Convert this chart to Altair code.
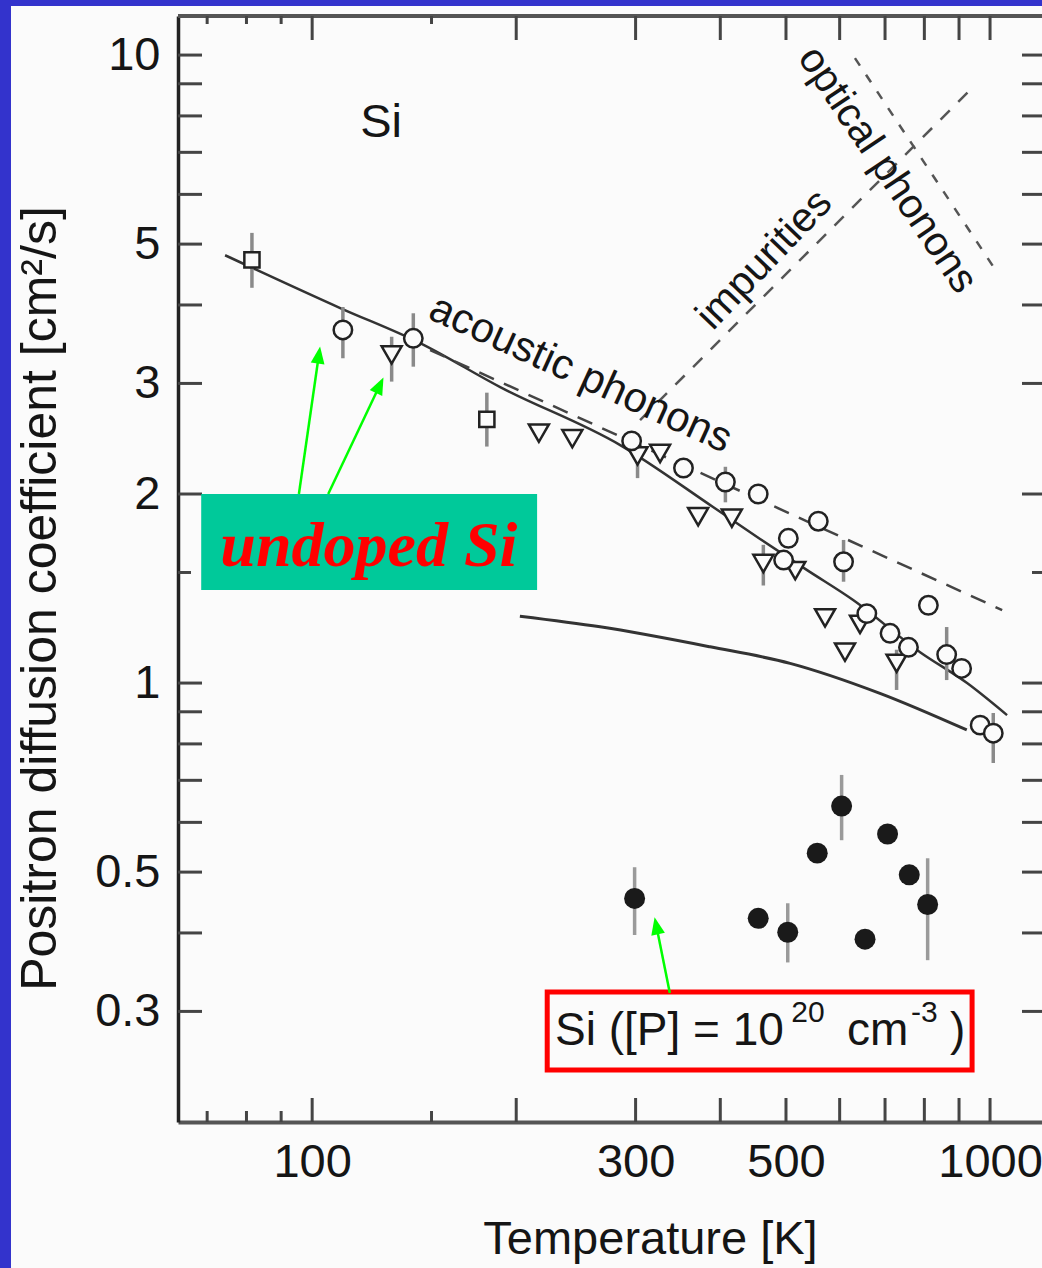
import altair as alt
import pandas as pd

FONT = "Liberation Sans"
INK = "#151515"
BG = "#fbfbfb"

# ---------------- axes ----------------
x_domain = [63.4, 1193.0]
y_domain = [0.2, 11.54]
x_labels = [100, 300, 500, 1000]
y_labels = [0.3, 0.5, 1, 2, 3, 5, 10]
x_ticks_major = [100, 200, 300, 400, 500, 600, 700, 800, 900, 1000]
x_ticks_minor = [70, 80, 90, 150]
y_ticks_major = [0.3, 0.4, 0.5, 0.6, 0.7, 0.8, 0.9, 1, 2, 3, 4, 5, 6, 7, 8, 9, 10]
y_ticks_minor = [1.5]

# ---------------- undoped Si data ----------------
sq_T = [81.5, 181]
sq_D = [4.72, 2.63]

circ_T = [111, 141, 296, 353, 407, 455, 504, 558, 496, 608, 658, 811, 712, 758, 863, 908, 967, 1011]
circ_D = [3.65, 3.54, 2.43, 2.20, 2.09, 2.00, 1.70, 1.81, 1.57, 1.56, 1.29, 1.33, 1.20, 1.14, 1.11, 1.055, 0.857, 0.832]

tri_T = [131, 216, 242, 302, 326, 371, 416, 463, 516, 571, 643, 611, 728]
tri_D = [3.33, 2.50, 2.45, 2.30, 2.32, 1.84, 1.83, 1.55, 1.51, 1.27, 1.24, 1.12, 1.075]

err_T = [81.5, 181, 111, 141, 131, 302, 407, 608, 463, 863, 1011, 728]
err_lo = [4.26, 2.38, 3.29, 3.19, 3.02, 2.12, 1.94, 1.45, 1.43, 1.011, 0.746, 0.975]
err_hi = [5.21, 2.90, 3.97, 3.88, 3.56, 2.49, 2.21, 1.69, 1.66, 1.228, 0.896, 1.13]

# ---------------- P-doped Si data ----------------
fil_T = [299, 455, 503, 556, 604, 706, 654, 760, 809]
fil_D = [0.454, 0.422, 0.401, 0.536, 0.637, 0.575, 0.391, 0.495, 0.444]
fil_err_T = [299, 503, 604, 809]
fil_err_lo = [0.397, 0.359, 0.562, 0.362]
fil_err_hi = [0.509, 0.446, 0.714, 0.526]

# ---------------- curves ----------------
upper_T = [74.4, 110.0, 144.3, 189.4, 284.7, 390.3, 457.9, 537.2, 628.1, 788.5, 924.9, 1059.5]
upper_D = [4.80, 3.955, 3.478, 2.960, 2.393, 1.907, 1.696, 1.513, 1.356, 1.120, 1.000, 0.889]
lower_T = [202.5, 265.9, 386.4, 507, 688, 924]
lower_D = [1.278, 1.229, 1.142, 1.075, 0.963, 0.842]
acoustic_T = [149.3, 1042]
acoustic_D = [3.39, 1.307]
impurity_T = [304.6, 950.4]
impurity_D = [2.623, 8.96]
optical_T = [632, 1024]
optical_D = [9.89, 4.51]

# ---------------- annotations (data coordinates) ----------------
si_pos = (126.4, 7.40)
acoustic_pos = (249, 3.11)
impurity_pos = (465, 4.72)
optical_pos = (705, 6.56)
undoped_box = (68.6, 214.7, 1.406, 2.0)
undoped_text_pos = (121.2, 1.536)
red_box = (222.2, 940.8, 0.2419, 0.3221)
red_parts = ["Si ([P] = 10", "20", "cm", "-3", ")"]
red_parts_T = [228.2, 509, 615, 764.6, 873]
red_parts_D = [0.2652, 0.2885, 0.2652, 0.2885, 0.2652]
red_parts_size = [46, 30, 46, 30, 46]
arrow_T = [95.6, 105.6, 337]
arrow_D = [2.0, 2.0, 0.321]
arrow_head_T = [102.3, 125.8, 321.9]
arrow_head_D = [3.33, 2.98, 0.4107]
arrow_angle = [8.2, 25.4, 348.4]

W, H = 864, 1106
PAD_BOTTOM = 146

xs = alt.Scale(type="log", domain=x_domain, nice=False, zero=False)
ys = alt.Scale(type="log", domain=y_domain, nice=False, zero=False)

x_axis = alt.Axis(values=x_labels, format="d", ticks=False, grid=False,
                  domainColor="#555", domainWidth=4,
                  labelFont=FONT, labelFontSize=47, labelColor=INK, labelPadding=17,
                  labelFlush=False, labelOverlap=False,
                  title="Temperature [K]", titleFont=FONT, titleFontSize=47,
                  titleFontWeight="normal", titleColor=INK, titleX=472, titleY=131,
                  titleBaseline="alphabetic", titleAlign="center")
y_axis = alt.Axis(values=y_labels, format="~g", ticks=False, grid=False,
                  domainColor="#222", domainWidth=3.5,
                  labelFont=FONT, labelFontSize=47, labelColor=INK, labelPadding=18,
                  labelFlush=False, labelOverlap=False,
                  title="Positron diffusion coefficient  [cm²/s]", titleFont=FONT,
                  titleFontSize=50, titleFontWeight="normal", titleColor=INK,
                  titleAngle=270, titleX=-123, titleY=582, titleBaseline="alphabetic",
                  titleAlign="center")


def X(f="T"):
    return alt.X(f"{f}:Q", scale=xs, axis=x_axis)


def Y(f="D"):
    return alt.Y(f"{f}:Q", scale=ys, axis=y_axis)


one = pd.DataFrame({"k": [0]})
layers = []

# blue frame
layers.append(alt.Chart(one).mark_rect(color="#3333cc").encode(
    x=alt.value(-178), x2=alt.value(-167), y=alt.value(-16), y2=alt.value(H + PAD_BOTTOM)))
layers.append(alt.Chart(one).mark_rect(color="#3333cc").encode(
    x=alt.value(-178), x2=alt.value(W), y=alt.value(-16), y2=alt.value(-10)))
# top frame line
layers.append(alt.Chart(one).mark_rule(color="#555", strokeWidth=4).encode(
    x=alt.value(0), x2=alt.value(W), y=alt.value(0)))

# ticks
tick_style = dict(color="#444", strokeWidth=3)
yM = pd.DataFrame({"D": y_ticks_major})
ym = pd.DataFrame({"D": y_ticks_minor})
xM = pd.DataFrame({"T": x_ticks_major})
xm = pd.DataFrame({"T": x_ticks_minor})
layers.append(alt.Chart(yM).mark_rule(**tick_style).encode(y=Y(), x=alt.value(0), x2=alt.value(24)))
layers.append(alt.Chart(yM).mark_rule(**tick_style).encode(y=Y(), x=alt.value(W - 20), x2=alt.value(W)))
layers.append(alt.Chart(ym).mark_rule(**tick_style).encode(y=Y(), x=alt.value(0), x2=alt.value(13)))
layers.append(alt.Chart(ym).mark_rule(**tick_style).encode(y=Y(), x=alt.value(W - 10), x2=alt.value(W)))
layers.append(alt.Chart(xM).mark_rule(**tick_style).encode(x=X(), y=alt.value(0), y2=alt.value(24)))
layers.append(alt.Chart(xm).mark_rule(**tick_style).encode(x=X(), y=alt.value(0), y2=alt.value(8)))
layers.append(alt.Chart(xM).mark_rule(**tick_style).encode(x=X(), y=alt.value(H), y2=alt.value(H - 24)))
layers.append(alt.Chart(xm).mark_rule(**tick_style).encode(x=X(), y=alt.value(H), y2=alt.value(H - 11)))

# curves
upper = pd.DataFrame({"T": upper_T, "D": upper_D})
lower = pd.DataFrame({"T": lower_T, "D": lower_D})
layers.append(alt.Chart(upper).mark_line(color="#333", strokeWidth=2.5, interpolate="monotone").encode(x=X(), y=Y()))
layers.append(alt.Chart(lower).mark_line(color="#333", strokeWidth=3, interpolate="monotone").encode(x=X(), y=Y()))
layers.append(alt.Chart(pd.DataFrame({"T": acoustic_T, "D": acoustic_D})).mark_line(
    color="#444", strokeWidth=2.5, strokeDash=[16, 11]).encode(x=X(), y=Y()))
layers.append(alt.Chart(pd.DataFrame({"T": impurity_T, "D": impurity_D})).mark_line(
    color="#555", strokeWidth=2.5, strokeDash=[13, 12]).encode(x=X(), y=Y()))
layers.append(alt.Chart(pd.DataFrame({"T": optical_T, "D": optical_D})).mark_line(
    color="#555", strokeWidth=2.5, strokeDash=[9, 11]).encode(x=X(), y=Y()))

# error bars
eb = pd.DataFrame({"T": err_T, "D": err_lo, "D2": err_hi})
feb = pd.DataFrame({"T": fil_err_T, "D": fil_err_lo, "D2": fil_err_hi})
layers.append(alt.Chart(eb).mark_rule(color="#8a8a8a", strokeWidth=3.5).encode(
    x=X(), y=Y(), y2=alt.Y2("D2:Q")))
layers.append(alt.Chart(feb).mark_rule(color="#9a9a9a", strokeWidth=3.5).encode(
    x=X(), y=Y(), y2=alt.Y2("D2:Q")))

# points
open_style = dict(filled=True, fill=BG, stroke="#222", strokeWidth=2.5, opacity=1)
layers.append(alt.Chart(pd.DataFrame({"T": sq_T, "D": sq_D})).mark_point(
    shape="square", size=230, **open_style).encode(x=X(), y=Y()))
layers.append(alt.Chart(pd.DataFrame({"T": tri_T, "D": tri_D})).mark_point(
    shape="triangle-down", size=400, **open_style).encode(x=X(), y=Y()))
layers.append(alt.Chart(pd.DataFrame({"T": circ_T, "D": circ_D})).mark_point(
    shape="circle", size=340, **open_style).encode(x=X(), y=Y()))
layers.append(alt.Chart(pd.DataFrame({"T": fil_T, "D": fil_D})).mark_point(
    shape="circle", size=440, filled=True, color="#1a1a1a", opacity=1).encode(x=X(), y=Y()))


def txt(pos, text, size, angle=0, align="center", baseline="middle", **kw):
    d = pd.DataFrame({"T": [pos[0]], "D": [pos[1]]})
    return alt.Chart(d).mark_text(text=text, font=kw.pop("font", FONT), fontSize=size,
                                  angle=angle, align=align, baseline=baseline,
                                  color=kw.pop("color", INK), **kw).encode(x=X(), y=Y())


layers.append(txt(si_pos, "Si", 47, baseline="alphabetic"))
layers.append(txt(acoustic_pos, "acoustic phonons", 42, angle=24.5))
layers.append(txt(impurity_pos, "impurities", 41, angle=313.7))
layers.append(txt(optical_pos, "optical phonons", 41, angle=56))

# undoped Si label
ub = pd.DataFrame({"T": [undoped_box[0]], "T2": [undoped_box[1]],
                   "D": [undoped_box[2]], "D2": [undoped_box[3]]})
layers.append(alt.Chart(ub).mark_rect(color="#00c99a").encode(
    x=X(), x2=alt.X2("T2:Q"), y=Y(), y2=alt.Y2("D2:Q")))
layers.append(txt(undoped_text_pos, "undoped Si", 64, baseline="alphabetic",
                  font="Liberation Serif", fontWeight="bold", fontStyle="italic", color="#ff0000"))

# red box
rb = pd.DataFrame({"T": [red_box[0]], "T2": [red_box[1]], "D": [red_box[2]], "D2": [red_box[3]]})
layers.append(alt.Chart(rb).mark_rect(fill=BG, stroke="#ff0000", strokeWidth=5).encode(
    x=X(), x2=alt.X2("T2:Q"), y=Y(), y2=alt.Y2("D2:Q")))
for t, tt, dd, sz in zip(red_parts, red_parts_T, red_parts_D, red_parts_size):
    layers.append(txt((tt, dd), t, sz, align="left", baseline="alphabetic"))

# green arrows
ar = pd.DataFrame({"T": arrow_T, "D": arrow_D, "T2": arrow_head_T, "D2": arrow_head_D,
                   "ang": arrow_angle})
layers.append(alt.Chart(ar).mark_rule(color="#00ff00", strokeWidth=2.5).encode(
    x=X(), y=Y(), x2=alt.X2("T2:Q"), y2=alt.Y2("D2:Q")))
layers.append(alt.Chart(ar).mark_point(shape="M-0.8,1L0.8,1L0,-1Z", size=300, filled=True,
                                       color="#00ff00", opacity=1).encode(
    x=X("T2"), y=Y("D2"), angle=alt.Angle("ang:Q", scale=None)))

chart = alt.layer(*layers).properties(
    width=W, height=H, autosize="none", background=BG,
    padding={"left": 178, "top": 16, "right": 0, "bottom": PAD_BOTTOM},
).configure_view(stroke=None)

chart.save("out.html", embed_options={"renderer": "svg", "actions": False})
